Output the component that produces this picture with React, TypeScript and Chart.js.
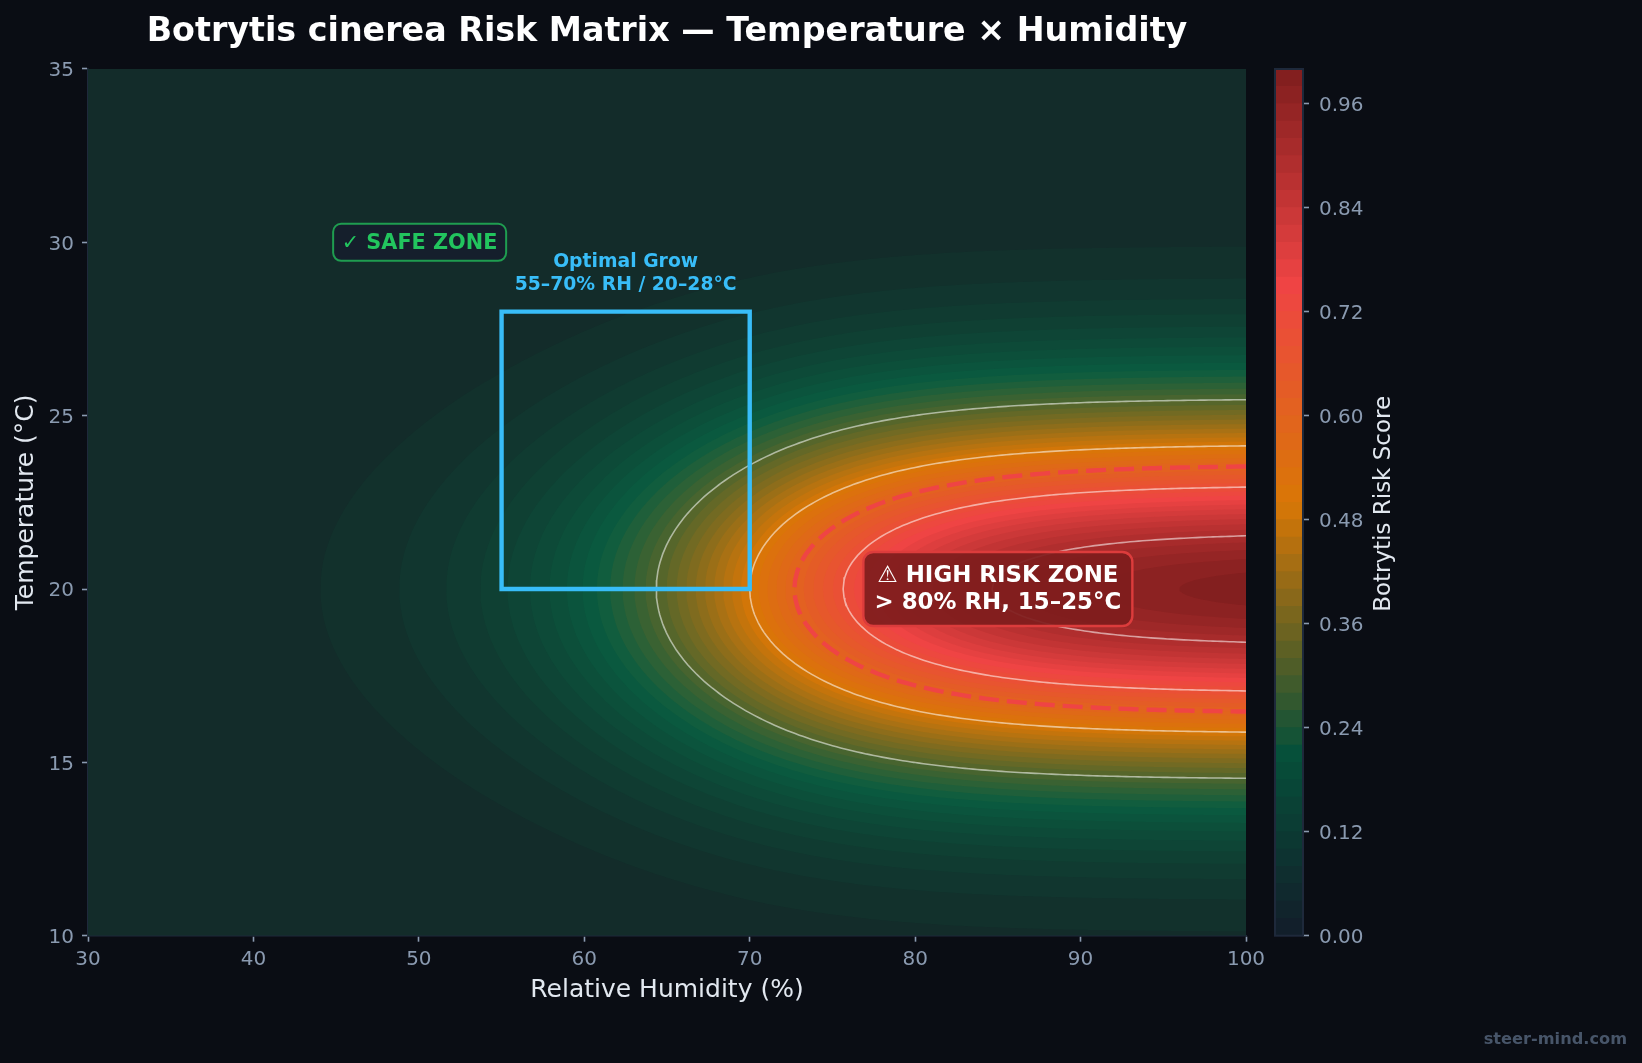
import React, { useEffect, useRef } from "react";
import { Chart, registerables } from "chart.js";

Chart.register(...registerables);

// Risk score. Columns: relative humidity. Rows: distance in °C from the 20 °C ridge.
const humidityColumns = [30, 32.5, 35, 37.5, 40, 42.5, 45, 47.5, 50, 52.5, 55, 57.5, 60, 62.5, 65, 67.5, 70, 72.5, 75, 77.5, 80, 82.5, 85, 87.5, 90, 92.5, 95, 97.5, 100];
const tempOffsets = [0, 1.01, 2.02, 3.03, 4.04, 5.05, 6.06, 7.07, 8.08, 9.09, 10.1, 11.11];
const riskAt0 = [.0025, .0036, .0052, .0076, .0110, .0159, .0230, .0331, .0474, .0676, .0953, .1330, .1824, .2451, .3208, .4073, .5000, .5927, .6792, .7549, .8176, .8670, .9047, .9324, .9526, .9669, .9770, .9840, .9890];
const riskAt1 = [.0024, .0035, .0050, .0073, .0106, .0153, .0221, .0318, .0455, .0649, .0915, .1277, .1751, .2353, .3080, .3910, .4800, .5690, .6520, .7247, .7849, .8323, .8685, .8951, .9145, .9282, .9379, .9446, .9494];
const riskAt2 = [.0021, .0031, .0044, .0065, .0093, .0135, .0195, .0281, .0403, .0574, .0809, .1130, .1549, .2082, .2725, .3460, .4247, .5034, .5769, .6412, .6945, .7364, .7685, .7920, .8091, .8213, .8299, .8358, .8401];
const riskAt3 = [.0017, .0025, .0036, .0053, .0076, .0110, .0159, .0229, .0328, .0468, .0660, .0921, .1263, .1698, .2222, .2821, .3464, .4106, .4705, .5229, .5664, .6006, .6267, .6459, .6599, .6698, .6768, .6816, .6851];
const riskAt4 = [.0013, .0019, .0027, .0040, .0057, .0083, .0120, .0172, .0247, .0352, .0496, .0692, .0949, .1276, .1670, .2120, .2603, .3085, .3535, .3929, .4256, .4513, .4709, .4853, .4958, .5033, .5085, .5122, .5148];
const riskAt5 = [.0009, .0013, .0019, .0027, .0040, .0057, .0083, .0119, .0171, .0244, .0343, .0479, .0657, .0883, .1156, .1468, .1802, .2136, .2448, .2721, .2947, .3125, .3261, .3360, .3433, .3485, .3521, .3546, .3564];
const riskAt6 = [.0006, .0008, .0012, .0017, .0025, .0037, .0053, .0076, .0109, .0156, .0219, .0306, .0420, .0564, .0738, .0937, .1151, .1364, .1563, .1737, .1881, .1995, .2082, .2145, .2192, .2225, .2248, .2264, .2276];
const riskAt7 = [.0003, .0005, .0007, .0010, .0015, .0022, .0031, .0045, .0064, .0091, .0129, .0180, .0247, .0332, .0434, .0551, .0677, .0802, .0919, .1021, .1106, .1173, .1224, .1262, .1289, .1308, .1322, .1331, .1338];
const riskAt8 = [.0002, .0003, .0004, .0006, .0008, .0012, .0017, .0024, .0035, .0050, .0070, .0098, .0134, .0180, .0235, .0299, .0367, .0435, .0499, .0554, .0600, .0636, .0664, .0684, .0699, .0710, .0717, .0722, .0726];
const riskAt9 = [.0001, .0001, .0002, .0003, .0004, .0006, .0008, .0012, .0017, .0025, .0035, .0049, .0067, .0090, .0118, .0149, .0184, .0218, .0249, .0277, .0300, .0318, .0332, .0342, .0350, .0355, .0359, .0361, .0363];
const riskAt10 = [.0001, .0001, .0001, .0001, .0002, .0003, .0004, .0006, .0008, .0011, .0016, .0022, .0031, .0041, .0054, .0069, .0085, .0100, .0115, .0128, .0138, .0147, .0153, .0158, .0161, .0163, .0165, .0166, .0167];
const riskAt11 = [.0001, .0001, .0001, .0001, .0001, .0001, .0002, .0002, .0003, .0005, .0007, .0010, .0013, .0018, .0023, .0029, .0036, .0043, .0049, .0054, .0059, .0062, .0065, .0067, .0069, .0070, .0070, .0071, .0071];
const riskRows = [riskAt0, riskAt1, riskAt2, riskAt3, riskAt4, riskAt5, riskAt6, riskAt7, riskAt8, riskAt9, riskAt10, riskAt11];

const ridgeTemperature = 20;
const fillLevels = [.02, .04, .06, .08, .10, .12, .14, .16, .18, .20, .22, .24, .26, .28, .30, .32, .34, .36, .38, .40, .42, .44, .46, .48, .50, .52, .54, .56, .58, .60, .62, .64, .66, .68, .70, .72, .74, .76, .78, .80, .82, .84, .86, .88, .90, .92, .94, .96, .98];
const outlineLevels = [.3, .5, .7, .9];
const dashedLevel = .6;
const optimalHumidity = [55, 70];
const optimalTemperature = [20, 28];
const colorbarTicks = [0, .12, .24, .36, .48, .60, .72, .84, .96];
const humidityRange = [30, 100];
const temperatureRange = [10, 35];

const plotStops: [number, string][] = [[0, "#132929"], [.2, "#0a5c40"], [.5, "#d97706"], [.75, "#ef4444"], [1, "#7f1d1d"]];
const barStops: [number, string][] = [[0, "#131d2a"], [.21, "#06503a"], [.5, "#d97706"], [.75, "#ef4444"], [1, "#7f1d1d"]];

const PAGE = "#0a0d14";
const FONT = "'DejaVu Sans'";

function rgb(h: string) { return [1, 3, 5].map((i) => parseInt(h.slice(i, i + 2), 16)); }
function colorAt(stops: [number, string][], v: number) {
  let i = 0;
  while (i < stops.length - 2 && v > stops[i + 1][0]) i++;
  const t = Math.min(1, Math.max(0, (v - stops[i][0]) / (stops[i + 1][0] - stops[i][0])));
  const a = rgb(stops[i][1]), b = rgb(stops[i + 1][1]);
  return `rgb(${a.map((c, k) => Math.round(c + (b[k] - c) * t)).join(",")})`;
}

const logRows = riskRows.map((r) => r.map((v) => Math.log(Math.max(v, 1e-4))));

// Smooth reading of one table row between its humidity columns.
function rowAt(row: number[], rh: number) {
  const n = humidityColumns.length;
  let j = 0;
  while (j < n - 2 && rh > humidityColumns[j + 1]) j++;
  const f = (rh - humidityColumns[j]) / (humidityColumns[j + 1] - humidityColumns[j]);
  const p1 = row[j], p2 = row[j + 1];
  const p0 = j > 0 ? row[j - 1] : 2 * p1 - p2;
  const p3 = j < n - 2 ? row[j + 2] : 2 * p2 - p1;
  return 0.5 * (2 * p1 + (p2 - p0) * f + (2 * p0 - 5 * p1 + 4 * p2 - p3) * f * f + (3 * p1 - p0 - 3 * p2 + p3) * f * f * f);
}
function fieldAt(rh: number, d: number) {
  let i = 0;
  while (i < tempOffsets.length - 2 && d > tempOffsets[i + 1]) i++;
  const a = tempOffsets[i], b = tempOffsets[i + 1];
  const t = (d * d - a * a) / (b * b - a * a);
  const u = rowAt(logRows[i], rh), v = rowAt(logRows[i + 1], rh);
  return u + (v - u) * t;
}
function humidityCrossing(d: number, ln: number) {
  let lo = humidityRange[0], hi = humidityRange[1];
  if (fieldAt(hi, d) < ln || fieldAt(lo, d) >= ln) return null;
  for (let k = 0; k < 40; k++) {
    const m = (lo + hi) / 2;
    if (fieldAt(m, d) < ln) lo = m; else hi = m;
  }
  return (lo + hi) / 2;
}
function offsetCrossing(rh: number, ln: number) {
  if (rowAt(logRows[0], rh) < ln) return null;
  for (let i = 0; i < tempOffsets.length - 1; i++) {
    const a = rowAt(logRows[i], rh), b = rowAt(logRows[i + 1], rh);
    if (a >= ln && b < ln) {
      const t = (a - ln) / (a - b);
      const p = tempOffsets[i], q = tempOffsets[i + 1];
      return Math.sqrt(p * p + t * (q * q - p * p));
    }
  }
  return null;
}
// Iso-risk outline of one level, as (humidity, temperature) pairs: from the right edge above the ridge, round the tip, back to the right edge below it.
function isoline(level: number) {
  const ln = Math.log(level);
  const pts: { rh: number; d: number }[] = [];
  for (let d = 0; d <= 11; d += 0.25) {
    const rh = humidityCrossing(d, ln);
    if (rh !== null) pts.push({ rh, d });
  }
  for (let rh = 30; rh <= 100; rh += 0.25) {
    const d = offsetCrossing(rh, ln);
    if (d !== null) pts.push({ rh, d });
  }
  pts.sort((a, b) => a.rh - b.rh || a.d - b.d);
  const upper = pts.map((p) => ({ x: p.rh, y: ridgeTemperature + p.d })).reverse();
  const lower = pts.slice(1).map((p) => ({ x: p.rh, y: ridgeTemperature - p.d }));
  return [...upper, ...lower];
}

const annotationPlugin = {
  id: "annotationText",
  afterDatasetsDraw(chart: any) {
    const { ctx, scales } = chart;
    const px = (rh: number) => scales.x.getPixelForValue(rh);
    const py = (t: number) => scales.y.getPixelForValue(t);
    ctx.save();
    ctx.textBaseline = "middle";

    // safe zone
    const sx = px(45), sy = py(30);
    ctx.beginPath();
    ctx.roundRect(sx - 3, sy - 18.5, 173, 37, 8);
    ctx.fillStyle = "#151f2c";
    ctx.fill();
    ctx.lineWidth = 2;
    ctx.strokeStyle = "#1f9d50";
    ctx.stroke();
    ctx.textAlign = "left";
    ctx.fillStyle = "#22c55e";
    ctx.font = `bold 20.8px ${FONT}`;
    ctx.fillText("✓ SAFE ZONE", sx + 5.5, sy + 1);

    // optimal label
    ctx.textAlign = "center";
    ctx.fillStyle = "#38bdf8";
    ctx.font = `bold 18.8px ${FONT}`;
    const ox = px(62.5), oy = py(28);
    ctx.fillText("Optimal Grow", ox, oy - 50);
    ctx.fillText("55–70% RH / 20–28°C", ox, oy - 27);

    // high risk
    const hx = px(85), hy = py(20);
    ctx.beginPath();
    ctx.roundRect(hx - 134.5, hy - 37, 269, 74, 10);
    ctx.fillStyle = "rgba(127,29,29,0.93)";
    ctx.fill();
    ctx.lineWidth = 2.4;
    ctx.strokeStyle = "#dc3c3c";
    ctx.stroke();
    ctx.fillStyle = "#ffffff";
    ctx.font = `bold 22.9px ${FONT}`;
    ctx.fillText("⚠ HIGH RISK ZONE", hx, hy - 12.5);
    ctx.fillText("> 80% RH, 15–25°C", hx, hy + 14.5);

    // watermark
    ctx.textAlign = "right";
    ctx.fillStyle = "#475569";
    ctx.font = `bold 16.2px ${FONT}`;
    ctx.fillText("steer-mind.com", 1627, 1040);
    ctx.restore();
  },
};

const barFramePlugin = {
  id: "barFrame",
  afterDatasetsDraw(chart: any) {
    const { ctx, chartArea: a } = chart;
    ctx.save();
    ctx.strokeStyle = "#1e293b";
    ctx.lineWidth = 2;
    ctx.strokeRect(a.left, a.top, a.right - a.left, a.bottom - a.top);
    ctx.translate(111, (a.top + a.bottom) / 2 + 1.5);
    ctx.rotate(-Math.PI / 2);
    ctx.textAlign = "center";
    ctx.textBaseline = "middle";
    ctx.fillStyle = "#e2e8f0";
    ctx.font = `23px ${FONT}`;
    ctx.fillText("Botrytis Risk Score", 0, 0);
    ctx.restore();
  },
};

export default function App() {
  const mainRef = useRef<HTMLCanvasElement>(null);
  const barRef = useRef<HTMLCanvasElement>(null);

  useEffect(() => {
    Chart.defaults.font.family = FONT;
    const tickColor = "#8a9ab0";
    const labelColor = "#e2e8f0";

    const datasets: any[] = [];
    datasets.push({
      data: [
        { x: humidityRange[0], y: temperatureRange[0] },
        { x: humidityRange[1], y: temperatureRange[0] },
        { x: humidityRange[1], y: temperatureRange[1] },
        { x: humidityRange[0], y: temperatureRange[1] },
      ],
      showLine: true, fill: "shape", backgroundColor: colorAt(plotStops, .01), borderWidth: 0, pointRadius: 0, order: 1000,
    });
    fillLevels.forEach((level, i) => {
      datasets.push({
        data: isoline(level), showLine: true, fill: "shape", backgroundColor: colorAt(plotStops, level + .01),
        borderWidth: 0, pointRadius: 0, order: 900 - i,
      });
    });
    outlineLevels.forEach((level) => {
      datasets.push({
        data: isoline(level), showLine: true, fill: false, borderColor: "rgba(255,255,255,0.55)", borderWidth: 1.6,
        pointRadius: 0, order: 20,
      });
    });
    datasets.push({
      data: isoline(dashedLevel), showLine: true, fill: false, borderColor: "#ef4444", borderWidth: 4.4, borderDash: [20, 8],
      pointRadius: 0, order: 10,
    });
    datasets.push({
      data: [
        { x: optimalHumidity[0], y: optimalTemperature[0] },
        { x: optimalHumidity[1], y: optimalTemperature[0] },
        { x: optimalHumidity[1], y: optimalTemperature[1] },
        { x: optimalHumidity[0], y: optimalTemperature[1] },
        { x: optimalHumidity[0], y: optimalTemperature[0] },
        { x: optimalHumidity[1], y: optimalTemperature[0] },
      ],
      showLine: true, fill: false, borderColor: "#38bdf8", borderWidth: 4.4, borderJoinStyle: "miter", pointRadius: 0, order: 5,
    });

    const main = new Chart(mainRef.current!, {
      type: "scatter",
      data: { datasets },
      plugins: [annotationPlugin],
      options: {
        animation: false,
        responsive: false,
        devicePixelRatio: 1,
        events: [],
        layout: { padding: { left: 11.8, right: 396, top: 0, bottom: 57.3 } },
        plugins: {
          legend: { display: false },
          tooltip: { enabled: false },
          title: {
            display: true,
            fullSize: false,
            text: "Botrytis cinerea Risk Matrix — Temperature × Humidity",
            color: "#ffffff",
            font: { size: 33.3, weight: "bold", family: FONT, lineHeight: 1.2 },
            padding: { top: 12.7, bottom: 16.3 },
          },
        },
        scales: {
          x: {
            type: "linear", min: humidityRange[0], max: humidityRange[1],
            afterFit(s: any) { s.height = 70; },
            ticks: { stepSize: 10, color: tickColor, font: { size: 20 }, padding: 6, maxRotation: 0 },
            grid: { drawOnChartArea: false, drawTicks: true, tickLength: 6, tickColor, tickWidth: 1.6 },
            border: { color: "#1e293b", width: 1.6 },
            title: { display: true, text: "Relative Humidity (%)", color: labelColor, font: { size: 25, lineHeight: 1.2 }, padding: 0 },
          },
          y: {
            type: "linear", min: temperatureRange[0], max: temperatureRange[1],
            afterFit(s: any) { s.width = 76.2; },
            ticks: { stepSize: 5, color: tickColor, font: { size: 20 }, padding: 8, labelOffset: 2.2 },
            grid: { drawOnChartArea: false, drawTicks: true, tickLength: 6, tickColor, tickWidth: 1.6 },
            border: { color: "#1e293b", width: 1.6 },
            title: { display: true, text: "Temperature (°C)", color: labelColor, font: { size: 25, lineHeight: 1.2 }, padding: 0 },
          },
        },
      } as any,
    });

    const bands = [0, ...fillLevels];
    const barSets = bands.map((lo, i) => ({
      data: [bands[i + 1] ?? 1],
      backgroundColor: colorAt(barStops, lo + .01),
      borderWidth: 0,
      grouped: false,
      barPercentage: 1,
      categoryPercentage: 1,
      order: i,
    }));

    const bar = new Chart(barRef.current!, {
      type: "bar",
      data: { labels: [""], datasets: barSets as any },
      plugins: [barFramePlugin],
      options: {
        animation: false,
        responsive: false,
        devicePixelRatio: 1,
        events: [],
        layout: { padding: { left: 2, right: 245, top: 69, bottom: 127.3 } },
        plugins: { legend: { display: false }, tooltip: { enabled: false } },
        scales: {
          x: { display: false, offset: true },
          y: {
            position: "right", min: 0, max: 1,
            afterBuildTicks(s: any) { s.ticks = colorbarTicks.map((value) => ({ value })); },
            afterFit(s: any) { s.width = 94; },
            ticks: { color: tickColor, font: { size: 20 }, padding: 10, labelOffset: 2.2, callback: (v: any) => Number(v).toFixed(2) },
            grid: { drawOnChartArea: false, drawTicks: true, tickLength: 6, tickColor, tickWidth: 1.6 },
            border: { display: false },
          },
        },
      } as any,
    });

    return () => { main.destroy(); bar.destroy(); };
  }, []);

  return (
    <div style={{ position: "fixed", left: 0, top: 0, width: 1642, height: 1063, background: PAGE, overflow: "hidden" }}>
      <canvas ref={mainRef} width={1642} height={1063} style={{ position: "absolute", left: 0, top: 0, width: 1642, height: 1063 }} />
      <canvas ref={barRef} width={369} height={1063} style={{ position: "absolute", left: 1273, top: 0, width: 369, height: 1063 }} />
    </div>
  );
}
